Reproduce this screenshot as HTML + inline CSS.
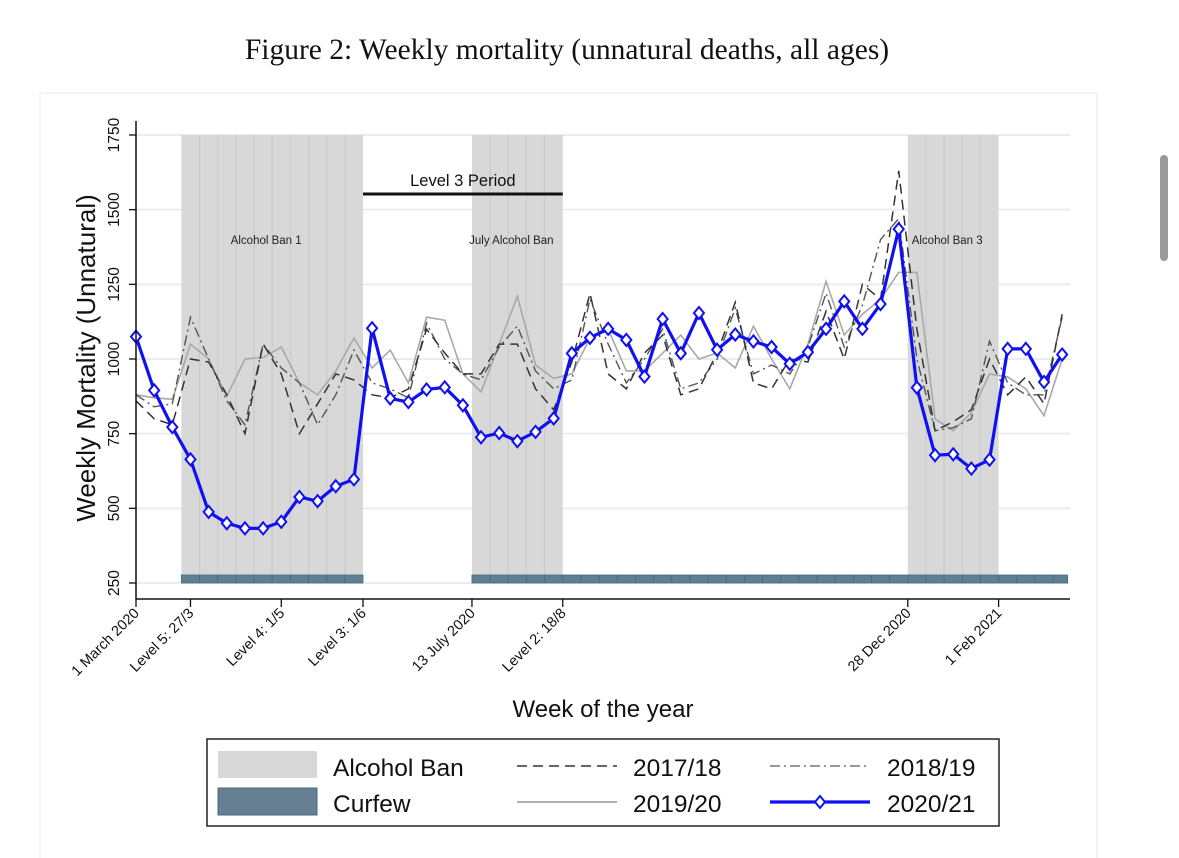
<!DOCTYPE html>
<html><head><meta charset="utf-8"><style>
html,body{margin:0;padding:0;background:#fff;width:1179px;height:858px;overflow:hidden}
svg{display:block}
text{font-family:"Liberation Sans",sans-serif}
</style></head><body>
<svg id="chart" width="1179" height="858" viewBox="0 0 1179 858">
<text x="567" y="59" text-anchor="middle" style="font-family:'Liberation Serif',serif" font-size="29.5" fill="#111">Figure 2: Weekly mortality (unnatural deaths, all ages)</text>
<rect x="40" y="93" width="1057" height="780" fill="none" stroke="#eef0f2" stroke-width="1.5"/>
<rect x="1160" y="155" width="8" height="106" rx="4" fill="#9a9a9a"/>
<g id="grid"></g><g id="shade"></g><g id="curfew"></g><g id="series"></g><g id="axes"></g>
</svg>
<script>
const categories = Array.from({length:52},(_,i)=>i);
const s2017 = [860,800,780,1000,990,880,750,1050,950,750,850,950,930,880,870,900,1100,1020,950,950,1050,1050,900,830,990,1220,950,900,1020,1080,880,900,1020,1190,920,900,1000,990,1160,1000,1250,1200,1630,1100,760,790,830,1000,880,940,850,1150];
const s2018 = [880,840,850,1140,1000,860,780,1050,970,920,780,880,1030,920,900,870,1120,1000,950,930,1040,1110,960,900,930,1200,1050,920,1000,1100,900,920,1000,1170,950,980,950,1040,1220,1040,1180,1400,1470,1000,760,770,800,1060,920,880,880,1140];
const s2019 = [880,870,865,1050,1000,875,1000,1005,1040,920,880,960,1070,970,1030,920,1140,1130,950,890,1050,1210,980,935,950,1070,1100,960,960,1020,1080,1000,1020,970,1110,1000,900,1050,1260,1080,1150,1200,1290,1290,800,760,820,950,940,900,810,1000];
const s2020 = [1075,895,772,664,488,450,433,433,455,538,524,574,597,1103,868,856,898,905,845,738,752,725,756,801,1019,1071,1101,1064,941,1134,1019,1154,1031,1082,1059,1040,984,1023,1101,1193,1101,1184,1435,904,678,681,633,663,1034,1034,923,1015];
const yTicks = [250,500,750,1000,1250,1500,1750];
const xTickWeeks = [0,3,8,12.5,18.5,23.5,42.5,47.5];
const xTickLabels = ["1 March 2020","Level 5: 27/3","Level 4: 1/5","Level 3: 1/6","13 July 2020","Level 2: 18/8","28 Dec 2020","1 Feb 2021"];
const banStarts = [2.5,18.5,42.5];
const banEnds = [12.5,23.5,47.5];
const banLabels = ["Alcohol Ban 1","July Alcohol Ban","Alcohol Ban 3"];
const curfewStarts = [2.5,18.5];
const curfewEnds = [12.5,51.3];

const NS="http://www.w3.org/2000/svg";
const X0=136, DX=18.16, Y250=583, Y1750=135;
const xs = w => X0 + w*DX;
const ys = v => Y250 - (v-250)*(Y250-Y1750)/1500;
function mk(tag, attrs, parent, txt){const e=document.createElementNS(NS,tag);for(const k in attrs)e.setAttribute(k,attrs[k]);if(txt!==undefined)e.textContent=txt;(typeof parent==='string'?document.getElementById(parent):parent).appendChild(e);return e;}
const XR=1070;
yTicks.forEach(v=>{
  const l=mk('line',{x1:X0,x2:XR,y1:ys(v),y2:ys(v),stroke:'#e6edf3','stroke-width':2},'grid');
  
  
});
banStarts.forEach((s,i)=>{
  const r=mk('rect',{x:xs(s),y:ys(1750),width:xs(banEnds[i])-xs(s),height:ys(250)-ys(1750),fill:'#d8d8d8'},'shade');
  
  
  for(let w=s+1;w<banEnds[i];w++){
    const d=mk('line',{x1:xs(w),x2:xs(w),y1:ys(1750),y2:ys(250),stroke:'#cdcdcd','stroke-width':1.5},'shade');
    
    
  }
  const t=mk('text',{x:(xs(s)+xs(banEnds[i]))/2-6,y:244,'text-anchor':'middle','font-size':11.5,fill:'#222'},'shade',banLabels[i]);
  
  
});
curfewStarts.forEach((s,i)=>{
  const r=mk('rect',{x:xs(s),y:575,width:xs(curfewEnds[i])-xs(s),height:8,fill:'#5f7f93',stroke:'#4d6a7c','stroke-width':0.8},'curfew');
  
  
  for(let w=s+1;w<curfewEnds[i];w++){
    const d=mk('line',{x1:xs(w),x2:xs(w),y1:575,y2:583,stroke:'#4d6a7c','stroke-width':1},'curfew');
    
    
  }
});
const lp=mk('line',{x1:xs(12.5),x2:xs(23.5),y1:194,y2:194,stroke:'#111','stroke-width':3},'shade');


const lt=mk('text',{x:(xs(12.5)+xs(23.5))/2,y:186,'text-anchor':'middle','font-size':16.5,fill:'#111'},'shade','Level 3 Period');


function pts(arr){return arr.map((v,i)=>xs(categories[i])+','+ys(v)).join(' ');}
const p1=mk('polyline',{points:pts(s2019),fill:'none',stroke:'#a8a8a8','stroke-width':1.6},'series');


const p2=mk('polyline',{points:pts(s2018),fill:'none',stroke:'#555','stroke-width':1.4,'stroke-dasharray':'10 4 2 4'},'series');


const p3=mk('polyline',{points:pts(s2017),fill:'none',stroke:'#333','stroke-width':1.5,'stroke-dasharray':'10 6'},'series');


const p4=mk('polyline',{points:pts(s2020),fill:'none',stroke:'#1010f0','stroke-width':3.2,'stroke-linejoin':'round'},'series');


s2020.forEach((v,i)=>{
  const x=xs(categories[i]),y=ys(v);
  const m=mk('polygon',{points:`${x},${y-6} ${x+5},${y} ${x},${y+6} ${x-5},${y}`,fill:'#fff',stroke:'#1010f0','stroke-width':2},'series');
  
  
});
const ya=mk('line',{x1:X0,x2:X0,y1:121,y2:599,stroke:'#111','stroke-width':1.5},'axes');


const xa=mk('line',{x1:X0,x2:XR,y1:599,y2:599,stroke:'#111','stroke-width':1.5},'axes');


yTicks.forEach(v=>{
  const y=ys(v);
  const t=mk('line',{x1:X0-7,x2:X0,y1:y,y2:y,stroke:'#111','stroke-width':1.3},'axes');
  
  
  const l=mk('text',{x:0,y:0,transform:`translate(119,${y}) rotate(-90)`,'text-anchor':'middle','font-size':15.5,fill:'#111'},'axes',String(v));
  
  
});
xTickWeeks.forEach((w,i)=>{
  const x=xs(w);
  const t=mk('line',{x1:x,x2:x,y1:599,y2:607,stroke:'#111','stroke-width':1.3},'axes');
  
  
  const l=mk('text',{x:0,y:0,transform:`translate(${x+4},${614}) rotate(-45)`,'text-anchor':'end','font-size':14.5,fill:'#111'},'axes',xTickLabels[i]);
  
  
});
const yt=mk('text',{x:0,y:0,transform:'translate(95,358) rotate(-90)','text-anchor':'middle','font-size':26,fill:'#111'},'axes','Weekly Mortality (Unnatural)');


const xt=mk('text',{x:603,y:717,'text-anchor':'middle','font-size':24,fill:'#111'},'axes','Week of the year');


const lg=mk('g',{},'axes');


mk('rect',{x:207,y:739,width:792,height:87,fill:'#fff',stroke:'#222','stroke-width':1.5},lg);
const sw1=mk('rect',{x:218,y:751,width:99,height:27,fill:'#d8d8d8'},lg);


const sw2=mk('rect',{x:218,y:788,width:99,height:27,fill:'#667f92',stroke:'#4d6a7c'},lg);


mk('line',{x1:517,x2:617,y1:766,y2:766,stroke:'#333','stroke-width':1.5,'stroke-dasharray':'10 6'},lg);
mk('line',{x1:770,x2:870,y1:766,y2:766,stroke:'#777','stroke-width':1.5,'stroke-dasharray':'10 4 2 4'},lg);
mk('line',{x1:517,x2:617,y1:802,y2:802,stroke:'#b0b0b0','stroke-width':2},lg);
mk('line',{x1:770,x2:870,y1:802,y2:802,stroke:'#1010f0','stroke-width':3.2},lg);
mk('polygon',{points:'820,796 825,802 820,808 815,802',fill:'#fff',stroke:'#1010f0','stroke-width':2},lg);
[['Alcohol Ban',333,776],['Curfew',333,812],['2017/18',633,776],['2019/20',633,812],['2018/19',887,776],['2020/21',887,812]].forEach(a=>{
  const t=mk('text',{x:a[1],y:a[2],'font-size':24.5,fill:'#111'},lg,a[0]);
  
  
});
</script>
</body></html>
